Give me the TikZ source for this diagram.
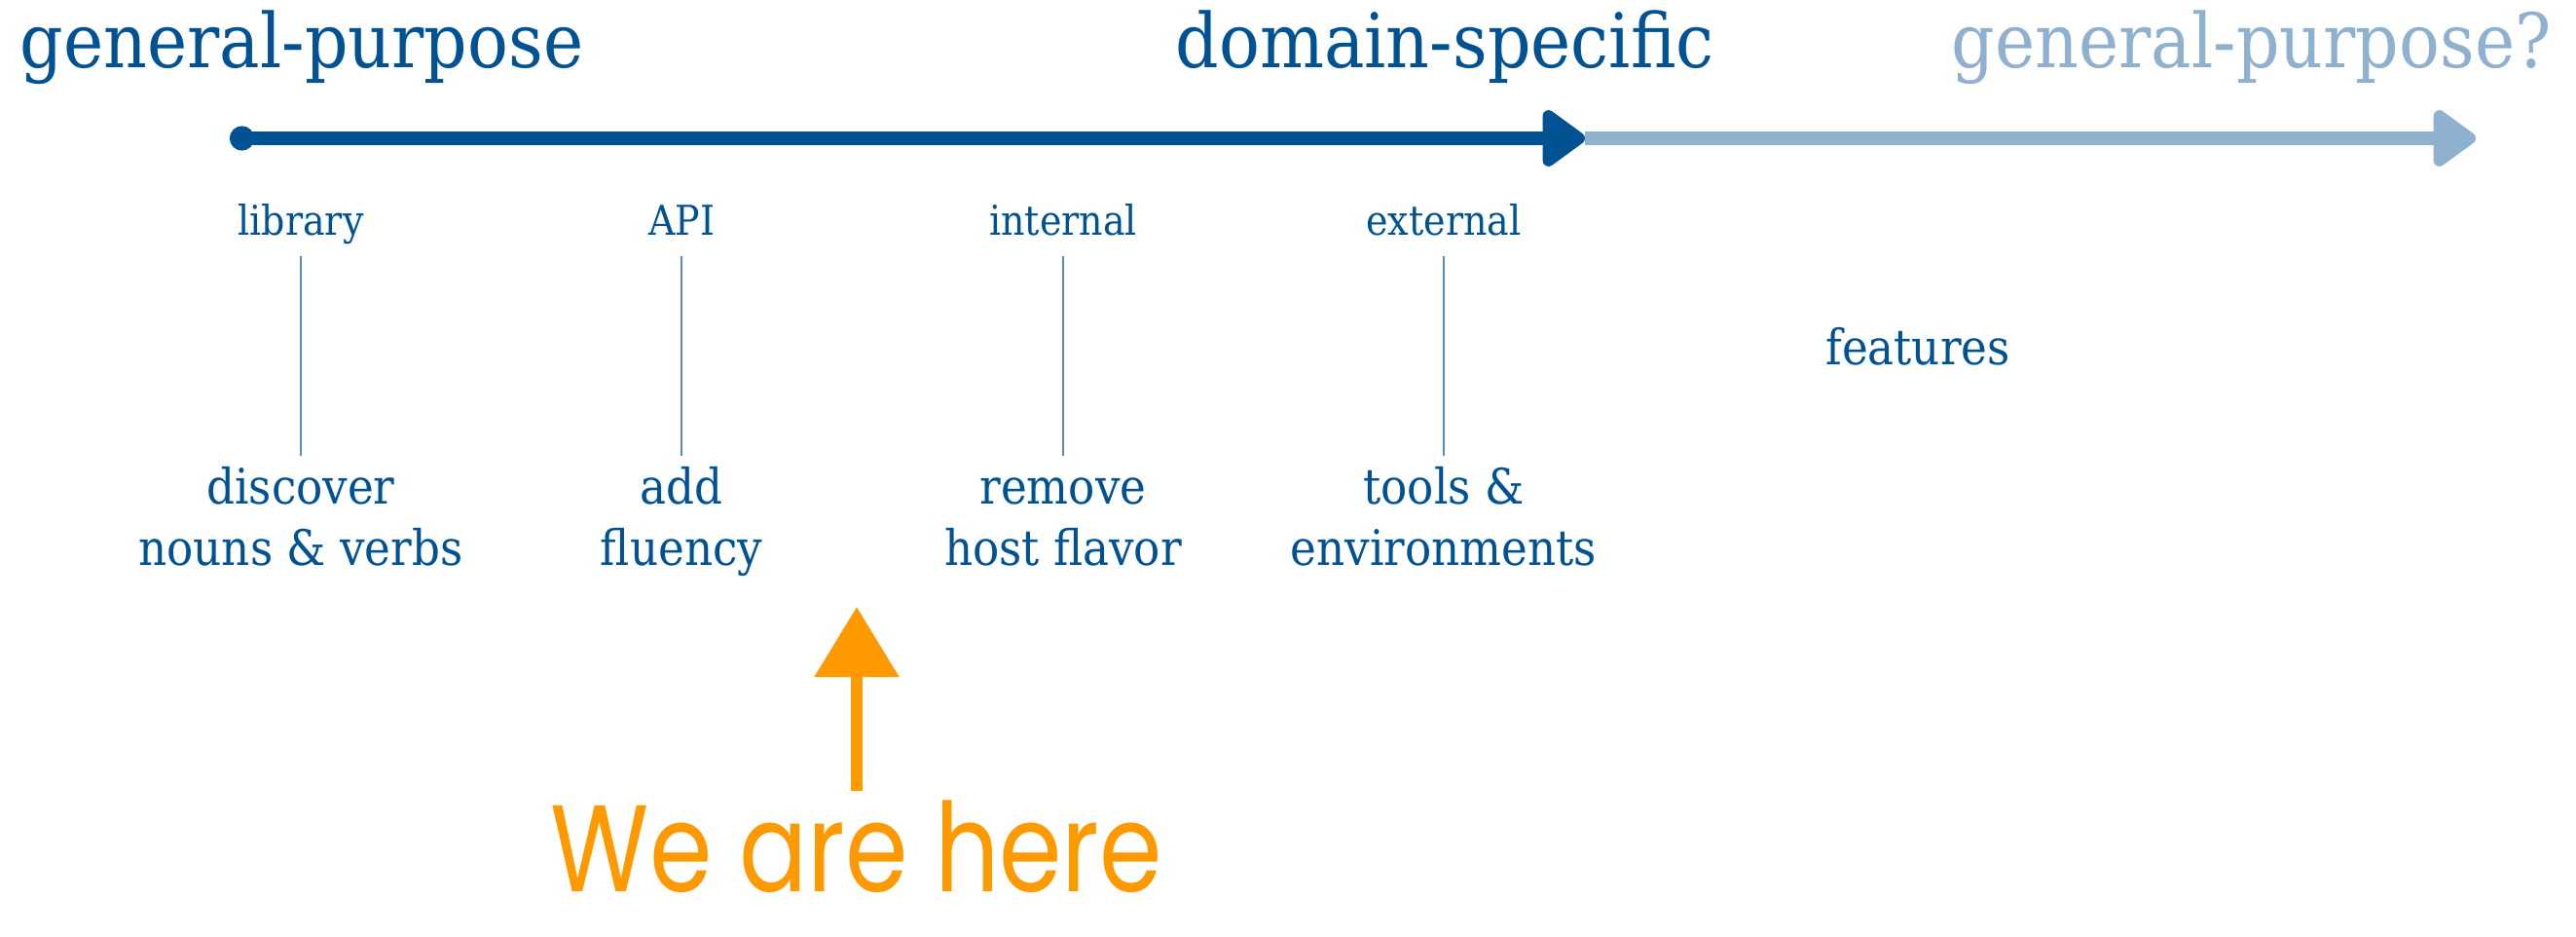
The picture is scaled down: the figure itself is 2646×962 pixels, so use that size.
\documentclass[tikz,border=0pt]{standalone}
\usepackage{fontspec}
\setmainfont{DejaVu Serif}[FakeStretch=0.9]
\newfontfamily\handfont{Poppins}[FakeStretch=0.82]
\usetikzlibrary{arrows.meta}
\definecolor{dslblue}{RGB}{0,82,147}
\definecolor{dslpale}{RGB}{143,177,207}
\definecolor{dsltick}{RGB}{90,140,195}
\definecolor{dslorange}{RGB}{255,153,0}

\begin{document}
\begin{tikzpicture}[x=0.01cm,y=-0.01cm,
    heading/.style={font=\fontsize{22}{26}\selectfont,inner sep=0pt,anchor=base west},
    kind/.style={font=\fontsize{12}{15}\selectfont,inner sep=0pt,anchor=base,text depth=0.25em},
    what/.style={font=\fontsize{14.3}{17.9}\selectfont,inner sep=0pt,anchor=north,align=center},
    axis/.style={line width=0.14cm,{Circle[length=0.25cm]}-{Triangle[length=0.48cm,width=0.66cm,round]}},
    tick/.style={dsltick,line width=0.02cm,shorten <=0.115cm,shorten >=0.05cm},
    pointer/.style={dslorange,line width=0.12cm,-{Triangle[length=0.72cm,width=0.84cm]}}]
  \useasboundingbox (0,0) rectangle (2646,962);
  \begin{scope}[text=dslblue]
    \node[heading] (gp) at (20,70) {general-purpose};
    \node[heading] (ds) at (1207,70) {domain-specific};
    \node[heading,text=dslpale] (gp2) at (2004,70) {general-purpose?};
    % the axis
    \coordinate (start) at (236,142);
    \coordinate (mid) at (1628,142);
    \coordinate (stop) at (2543,142);
    \draw[axis,dslpale,{Circle[length=0pt]}-{Triangle[length=0.48cm,width=0.66cm,round]}] (mid) -- (stop);
    \draw[axis,dslblue] (start) -- (mid);
    % stages
    \foreach [count=\i] \x/\kind/\what in {
      309/library/discover\\nouns \& verbs,
      700/API/add\\fluency,
      1092/internal/remove\\host flavor,
      1483/external/tools \&\\environments}
    {
      \node[kind] (kind\i) at (\x,242) {\kind};
      \node[what] (what\i) at (\x,473) {\strut\what};
      \draw[tick] (kind\i.south) -- (what\i.north);
    }
    \node[what,anchor=base] (feat) at (1970,375) {features};
  \end{scope}
  % we are here
  \node[inner sep=0pt,anchor=base,text=dslorange,font=\handfont\fontsize{36}{40}\selectfont]
    (here) at (880,916) {We are here};
  \coordinate (mark) at (880,623);
  \draw[pointer,shorten <=0.1cm] (here.north) -- (mark);
\end{tikzpicture}
\end{document}
